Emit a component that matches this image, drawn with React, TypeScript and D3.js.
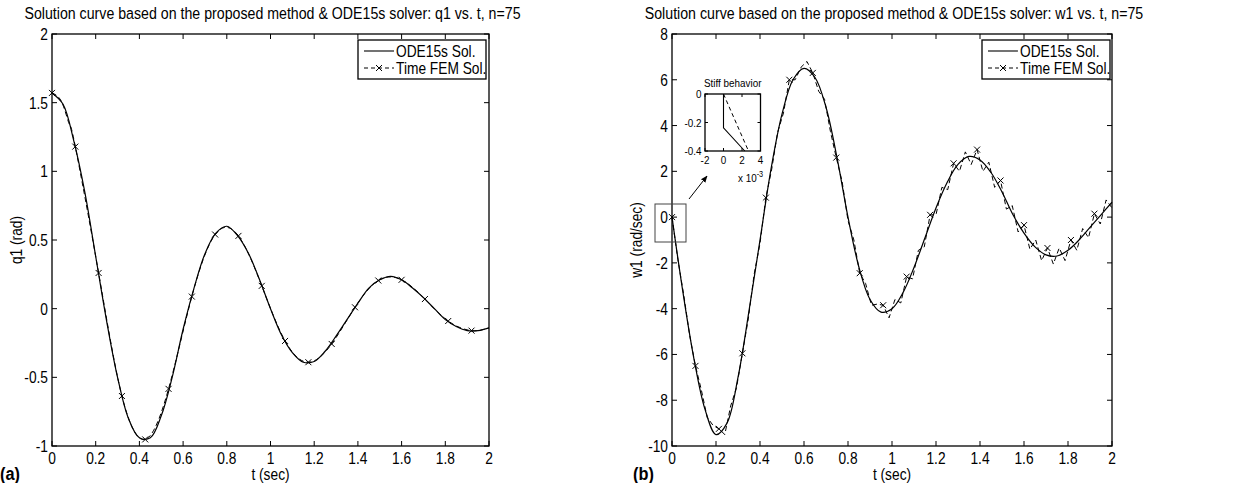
import React from 'react';
import * as d3 from 'd3';

// ODE15s solution, sampled every 0.05 s
const odeT = [0, 0.05, 0.1, 0.15, 0.2, 0.25, 0.3, 0.35, 0.4, 0.45, 0.5, 0.55, 0.6, 0.65, 0.7, 0.75, 0.8, 0.85, 0.9, 0.95, 1,
  1.05, 1.1, 1.15, 1.2, 1.25, 1.3, 1.35, 1.4, 1.45, 1.5, 1.55, 1.6, 1.65, 1.7, 1.75, 1.8, 1.85, 1.9, 1.95, 2];
const odeQ1 = [1.571, 1.49, 1.22, 0.85, 0.38, -0.09, -0.5, -0.8, -0.94, -0.94, -0.78, -0.5, -0.15, 0.15, 0.4, 0.55, 0.6,
  0.53, 0.4, 0.21, 0.0, -0.19, -0.32, -0.39, -0.385, -0.31, -0.2, -0.08, 0.04, 0.15, 0.21, 0.235, 0.21, 0.15, 0.08, 0.0,
  -0.08, -0.13, -0.16, -0.16, -0.14];
const odeW1 = [0, -3.3, -6.2, -8.4, -9.5, -9.0, -7.0, -4.1, -1.0, 2.1, 4.5, 6.0, 6.5, 6.1, 4.8, 2.6, 0.0, -2.2, -3.6,
  -4.15, -4.0, -3.3, -2.2, -0.9, 0.4, 1.5, 2.3, 2.65, 2.5, 1.95, 1.1, 0.1, -0.7, -1.3, -1.65, -1.7, -1.45, -1.0, -0.45,
  0.1, 0.65];

// Time FEM solution, n = 75 elements (76 nodes), markers on every 4th node
const femN = 75;
const femT = d3.range(femN + 1).map(k => (k * 2) / femN);
const femMarkEvery = 4;
// q1 read at the first nodes, then at every 4th node, plus the final node
const femQ1Idx = [0, 1, 2, 3, 4, 8, 12, 16, 20, 24, 28, 32, 36, 40, 44, 48, 52, 56, 60, 64, 68, 72, 75];
const femQ1 = [1.571, 1.545, 1.47, 1.34, 1.18, 0.26, -0.636, -0.952, -0.584, 0.088, 0.54, 0.53, 0.166, -0.235, -0.39,
  -0.257, 0.01, 0.205, 0.21, 0.07, -0.09, -0.16, -0.14];
const femW1 = [0, -1.85, -3.4, -5.15, -6.5, -7.55, -8.75, -9.1, -9.25, -9.5, -8.25, -7.45, -5.95, -4.45, -2.5, -1.15,
  0.85, 2.1, 3.7, 4.55, 6.0, 6.0, 6.55, 6.8, 6.3, 5.5, 5.15, 3.75, 2.6, 1.55, -0.15, -1.0, -2.45, -2.9, -3.85, -3.8,
  -3.85, -4.4, -3.6, -3.75, -2.6, -2.7, -1.45, -1.3, 0.1, 0.1, 1.3, 1.2, 2.35, 2.0, 2.85, 2.3, 2.95, 2.0, 2.4, 1.3, 1.6,
  0.35, 0.5, -0.65, -0.35, -1.4, -1.0, -1.9, -1.35, -2.05, -1.35, -1.9, -1.0, -1.45, -0.5, -0.9, 0.15, -0.3, 0.75, 0.4];

// zoomed inset near t = 0 (t in units of 1e-3 s)
const insetOdeT = [0, 0, 2.3];
const insetOdeW = [0, -0.237, -0.4];
const insetFemT = [0, 2.7];
const insetFemW = [0, -0.4];
const insetXTicks = [-2, 0, 2, 4];
const insetYTicks = [0, -0.2, -0.4];

const tTicks = [0, 0.2, 0.4, 0.6, 0.8, 1, 1.2, 1.4, 1.6, 1.8, 2];
const q1Ticks = [-1, -0.5, 0, 0.5, 1, 1.5, 2];
const w1Ticks = [-10, -8, -6, -4, -2, 0, 2, 4, 6, 8];

const FONT = 'Liberation Sans, Arial, Helvetica, sans-serif';
const SX = 0.86;
const FS = 16;
const TOP = 34;
const BOTTOM = 446;
const TICK = 5;

type TxtProps = {
  x: number; y: number; size?: number; anchor?: string; rotate?: number; bold?: boolean; children: React.ReactNode;
};
const Txt = ({ x, y, size = FS, anchor = 'middle', rotate = 0, bold = false, children }: TxtProps) => (
  <text transform={`translate(${x},${y}) rotate(${rotate}) scale(${SX},1)`} fontSize={size} textAnchor={anchor}
    fontFamily={FONT} fontWeight={bold ? 'bold' : 'normal'} fill="#000">{children}</text>
);

const Cross = ({ x, y, r = 3 }: { x: number; y: number; r?: number }) => (
  <path d={`M${x - r},${y - r}L${x + r},${y + r}M${x - r},${y + r}L${x + r},${y - r}`} stroke="#000" strokeWidth={1} />
);

const fmt = (v: number) => String(v);

type Scale = d3.ScaleLinear<number, number>;

type PanelProps = {
  x0: number; x1: number; yDomain: [number, number]; yTicks: number[];
  title: string; ylabel: string; tag: string; tagX: number; legendX: number; legendY: number;
  draw: (x: Scale, y: Scale) => React.ReactNode;
};

const Panel = ({ x0, x1, yDomain, yTicks, title, ylabel, tag, tagX, legendX, legendY, draw }: PanelProps) => {
  const x = d3.scaleLinear().domain([0, 2]).range([x0, x1]);
  const y = d3.scaleLinear().domain(yDomain).range([BOTTOM, TOP]);
  const lw = 128;
  const lh = 39;
  return (
    <g>
      <Txt x={(x0 + x1) / 2 + 2} y={19} size={16.5}>{title}</Txt>
      <defs>
        <clipPath id={`clip-${tag}`}>
          <rect x={x0} y={TOP} width={x1 - x0} height={BOTTOM - TOP} />
        </clipPath>
      </defs>
      <g clipPath={`url(#clip-${tag})`}>{draw(x, y)}</g>
      {tTicks.map(t => (
        <g key={`xt${t}`}>
          <line x1={x(t)} x2={x(t)} y1={BOTTOM} y2={BOTTOM - TICK} stroke="#000" />
          <line x1={x(t)} x2={x(t)} y1={TOP} y2={TOP + TICK} stroke="#000" />
          <Txt x={x(t)} y={BOTTOM + 18}>{fmt(t)}</Txt>
        </g>
      ))}
      {yTicks.map(v => (
        <g key={`yt${v}`}>
          <line x1={x0} x2={x0 + TICK} y1={y(v)} y2={y(v)} stroke="#000" />
          <line x1={x1} x2={x1 - TICK} y1={y(v)} y2={y(v)} stroke="#000" />
          <Txt x={x0 - 4} y={y(v) + 6} anchor="end">{fmt(v)}</Txt>
        </g>
      ))}
      <rect x={x0} y={TOP} width={x1 - x0} height={BOTTOM - TOP} fill="none" stroke="#000" strokeWidth={1.3} />
      <Txt x={(x0 + x1) / 2} y={480}>t (sec)</Txt>
      <Txt x={x0 - 30} y={(TOP + BOTTOM) / 2} rotate={-90}>{ylabel}</Txt>
      <Txt x={tagX} y={480} anchor="start" size={19} bold>{tag}</Txt>
      <g>
        <rect x={legendX} y={legendY} width={lw} height={lh} fill="#fff" stroke="#000" strokeWidth={1.3} />
        <line x1={legendX + 6} x2={legendX + 36} y1={legendY + 11} y2={legendY + 11} stroke="#000" strokeWidth={1.1} />
        <Txt x={legendX + 38} y={legendY + 16.5} anchor="start">ODE15s Sol.</Txt>
        <line x1={legendX + 6} x2={legendX + 36} y1={legendY + 28} y2={legendY + 28} stroke="#000" strokeWidth={1}
          strokeDasharray="4,3" />
        <Cross x={legendX + 21} y={legendY + 28} />
        <Txt x={legendX + 38} y={legendY + 33.5} anchor="start">Time FEM Sol.</Txt>
      </g>
    </g>
  );
};

const Inset = ({ left, top, width, height }: { left: number; top: number; width: number; height: number }) => {
  const x = d3.scaleLinear().domain([-2, 4]).range([left, left + width]);
  const y = d3.scaleLinear().domain([-0.4, 0]).range([top + height, top]);
  const path = d3.line();
  const odePts: [number, number][] = insetOdeT.map((t, i) => [x(t), y(insetOdeW[i])]);
  const femPts: [number, number][] = insetFemT.map((t, i) => [x(t), y(insetFemW[i])]);
  const fs = 11.5;
  return (
    <g>
      <Txt x={left + width / 2} y={top - 7} size={fs}>Stiff behavior</Txt>
      <rect x={left} y={top} width={width} height={height} fill="#fff" stroke="none" />
      <path d={path(odePts) || ''} fill="none" stroke="#000" strokeWidth={1.1} />
      <path d={path(femPts) || ''} fill="none" stroke="#000" strokeWidth={1} strokeDasharray="4,3" />
      {insetXTicks.map(t => (
        <g key={`ix${t}`}>
          <line x1={x(t)} x2={x(t)} y1={top + height} y2={top + height - 3} stroke="#000" />
          <line x1={x(t)} x2={x(t)} y1={top} y2={top + 3} stroke="#000" />
          <Txt x={x(t)} y={top + height + 13} size={fs}>{fmt(t)}</Txt>
        </g>
      ))}
      {insetYTicks.map(v => (
        <g key={`iy${v}`}>
          <line x1={left} x2={left + 3} y1={y(v)} y2={y(v)} stroke="#000" />
          <line x1={left + width} x2={left + width - 3} y1={y(v)} y2={y(v)} stroke="#000" />
          <Txt x={left - 3.5} y={y(v) + 4} size={fs} anchor="end">{fmt(v)}</Txt>
        </g>
      ))}
      <rect x={left} y={top} width={width} height={height} fill="none" stroke="#000" strokeWidth={1.3} />
      <text transform={`translate(${left + 33},${top + height + 31}) scale(${SX},1)`} fontSize={fs} fontFamily={FONT}>
        x 10<tspan dy={-5} fontSize={8.5}>-3</tspan>
      </text>
    </g>
  );
};

export default function App() {
  const smooth = (x: Scale, y: Scale, ts: number[], vs: number[], curve: d3.CurveFactory) =>
    d3.line<number>().x((_, i) => x(ts[i])).y(v => y(v)).curve(curve)(vs) || '';

  const drawQ1 = (x: Scale, y: Scale) => {
    const ts = femQ1Idx.map(k => femT[k]);
    return (
      <g>
        <path d={smooth(x, y, odeT, odeQ1, d3.curveCatmullRom)} fill="none" stroke="#000" strokeWidth={1.2} />
        <path d={smooth(x, y, ts, femQ1, d3.curveNatural)} fill="none" stroke="#000" strokeWidth={1}
          strokeDasharray="5,3" />
        {femQ1.map((v, i) => (femQ1Idx[i] % femMarkEvery === 0 ? <Cross key={i} x={x(ts[i])} y={y(v)} /> : null))}
      </g>
    );
  };

  const drawW1 = (x: Scale, y: Scale) => {
    const femPath = d3.line<number>().x((_, i) => x(femT[i])).y(v => y(v))(femW1) || '';
    return (
      <g>
        <path d={smooth(x, y, odeT, odeW1, d3.curveCatmullRom)} fill="none" stroke="#000" strokeWidth={1.2} />
        <path d={femPath} fill="none" stroke="#000" strokeWidth={1} strokeDasharray="5,3" />
        {femW1.map((v, k) => (k % femMarkEvery === 0 ? <Cross key={k} x={x(femT[k])} y={y(v)} /> : null))}
      </g>
    );
  };

  return (
    <div style={{ position: 'absolute', left: 0, top: 0 }}>
      <svg width={1236} height={483} viewBox="0 0 1236 483" style={{ display: 'block', background: '#fff' }}>
        <Panel x0={52} x1={489} yDomain={[-1, 2]} yTicks={q1Ticks}
          title="Solution curve based on the proposed method & ODE15s solver: q1 vs. t, n=75"
          ylabel="q1 (rad)" tag="(a)" tagX={0} legendX={358} legendY={40} draw={drawQ1} />
        <Panel x0={672} x1={1112} yDomain={[-10, 8]} yTicks={w1Ticks}
          title="Solution curve based on the proposed method & ODE15s solver: w1 vs. t, n=75"
          ylabel="w1 (rad/sec)" tag="(b)" tagX={633} legendX={982} legendY={40} draw={drawW1} />
        <Inset left={705} top={94} width={55.5} height={57} />
        <rect x={655} y={204} width={31} height={38} fill="none" stroke="#444" strokeWidth={1} />
        <defs>
          <marker id="arrow" viewBox="0 0 10 10" refX={9} refY={5} markerWidth={7} markerHeight={7} orient="auto">
            <path d="M0,1L10,5L0,9z" fill="#000" />
          </marker>
        </defs>
        <line x1={689} y1={199} x2={707} y2={176} stroke="#000" strokeWidth={1} markerEnd="url(#arrow)" />
      </svg>
    </div>
  );
}
